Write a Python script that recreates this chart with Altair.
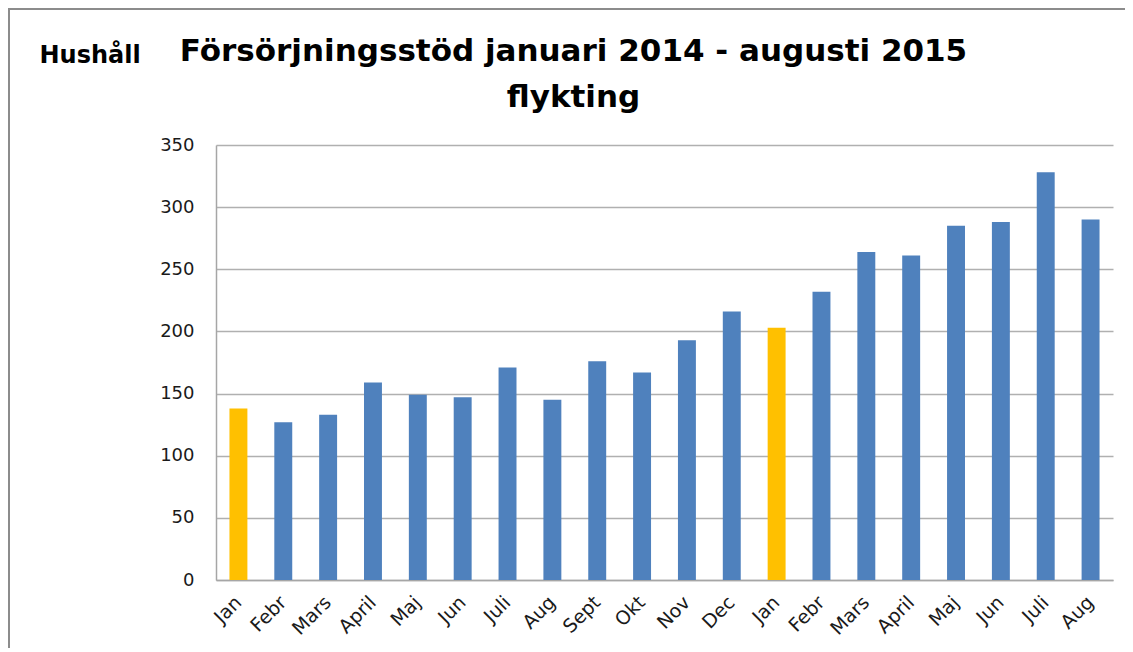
import altair as alt
import pandas as pd

months = ["Jan", "Febr", "Mars", "April", "Maj", "Jun", "Juli", "Aug", "Sept", "Okt",
          "Nov", "Dec", "Jan", "Febr", "Mars", "April", "Maj", "Jun", "Juli", "Aug"]
values = [138, 127, 133, 159, 149, 147, 171, 145, 176, 167,
          193, 216, 203, 232, 264, 261, 285, 288, 328, 290]
highlight = [True, False, False, False, False, False, False, False, False, False,
             False, False, True, False, False, False, False, False, False, False]

keys = [f"{m}|{i:02d}" for i, m in enumerate(months)]
df = pd.DataFrame({"key": keys, "value": values,
                   "grp": ["jan" if h else "other" for h in highlight]})

FONT = "DejaVu Sans"

bars = alt.Chart(df).mark_bar().encode(
    x=alt.X("key:N", sort=keys,
            scale=alt.Scale(paddingInner=0.6, paddingOuter=0.3),
            axis=alt.Axis(title=None, labelExpr="split(datum.value, '|')[0]",
                          labelAngle=-45, labelAlign="right", labelBaseline="middle",
                          labelFontSize=19, labelFont=FONT,
                          labelColor="#1a1a1a", labelPadding=19, ticks=False,
                          domainColor="#a6a6a6", domainWidth=1.5)),
    y=alt.Y("value:Q", scale=alt.Scale(domain=[0, 350]),
            axis=alt.Axis(values=[0, 50, 100, 150, 200, 250, 300, 350],
                          title="Hushåll", titleAngle=0, titleX=-177, titleY=-83,
                          titleAlign="left", titleBaseline="alphabetic",
                          titleFont=FONT, titleFontSize=24, titleFontWeight="bold",
                          titleColor="#000000",
                          labelFontSize=18, labelFont=FONT, labelColor="#1a1a1a",
                          labelPadding=22, ticks=False, domainColor="#a6a6a6",
                          domainWidth=1.5, gridColor="#b0b0b0", gridWidth=1.5)),
    color=alt.Color("grp:N", scale=alt.Scale(domain=["jan", "other"],
                                             range=["#FFC000", "#4F81BD"]),
                    legend=None),
)

border_left = alt.Chart(df).mark_rule(color="#8c8c8c", strokeWidth=2).encode(
    x=alt.value(-207), y=alt.value(-136), y2=alt.value(520))
border_top = alt.Chart(df).mark_rule(color="#8c8c8c", strokeWidth=2).encode(
    x=alt.value(-208), x2=alt.value(960), y=alt.value(-136))

chart = alt.layer(bars, border_left, border_top).properties(
    width=897, height=435,
    autosize=alt.AutoSizeParams(type="none"),
    padding={"left": 208, "top": 137, "right": 12, "bottom": 68},
    title=alt.TitleParams(
        text=["Försörjningsstöd januari 2014 - augusti 2015", "flykting"],
        font=FONT, fontSize=31, fontWeight="bold", color="#000000",
        anchor="middle", dx=-91, lineHeight=46, offset=-137, baseline="bottom"),
).configure_view(stroke=None)

chart.save("out.html", embed_options={"renderer": "svg", "actions": False})
